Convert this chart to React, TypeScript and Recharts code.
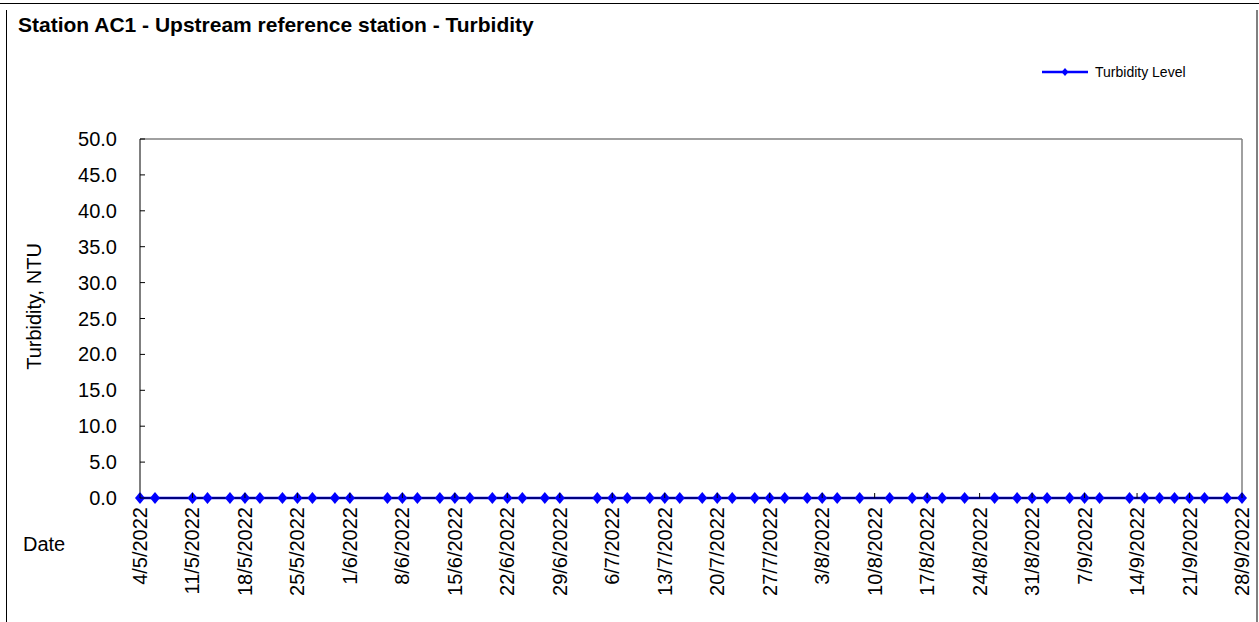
import React from "react"
import {
  LineChart,
  Line,
  XAxis,
  YAxis,
  ReferenceLine,
  Legend,
} from "recharts"

const sampleDates = [
  "4/5/2022", "6/5/2022", "11/5/2022", "13/5/2022", "16/5/2022", "18/5/2022", "20/5/2022",
  "23/5/2022", "25/5/2022", "27/5/2022", "30/5/2022", "1/6/2022", "6/6/2022", "8/6/2022",
  "10/6/2022", "13/6/2022", "15/6/2022", "17/6/2022", "20/6/2022", "22/6/2022", "24/6/2022",
  "27/6/2022", "29/6/2022", "4/7/2022", "6/7/2022", "8/7/2022", "11/7/2022", "13/7/2022",
  "15/7/2022", "18/7/2022", "20/7/2022", "22/7/2022", "25/7/2022", "27/7/2022", "29/7/2022",
  "1/8/2022", "3/8/2022", "5/8/2022", "8/8/2022", "12/8/2022", "15/8/2022", "17/8/2022",
  "19/8/2022", "22/8/2022", "26/8/2022", "29/8/2022", "31/8/2022", "2/9/2022", "5/9/2022",
  "7/9/2022", "9/9/2022", "13/9/2022", "15/9/2022", "17/9/2022", "19/9/2022", "21/9/2022",
  "23/9/2022", "26/9/2022", "28/9/2022",
]

const turbidity = [
  0, 0, 0, 0, 0, 0, 0,
  0, 0, 0, 0, 0, 0, 0,
  0, 0, 0, 0, 0, 0, 0,
  0, 0, 0, 0, 0, 0, 0,
  0, 0, 0, 0, 0, 0, 0,
  0, 0, 0, 0, 0, 0, 0,
  0, 0, 0, 0, 0, 0, 0,
  0, 0, 0, 0, 0, 0, 0,
  0, 0, 0,
]

const dateTicks = [
  "4/5/2022", "11/5/2022", "18/5/2022", "25/5/2022", "1/6/2022", "8/6/2022", "15/6/2022",
  "22/6/2022", "29/6/2022", "6/7/2022", "13/7/2022", "20/7/2022", "27/7/2022", "3/8/2022",
  "10/8/2022", "17/8/2022", "24/8/2022", "31/8/2022", "7/9/2022", "14/9/2022", "21/9/2022",
  "28/9/2022",
]

const yTicks = [0, 5, 10, 15, 20, 25, 30, 35, 40, 45, 50]

const FONT = '"Liberation Sans", Arial, sans-serif'
const BLUE = "#0000ff"

function toTime(s: string) {
  const [d, m, y] = s.split("/").map(Number)
  return Date.UTC(y, m - 1, d)
}

function fmtDate(t: number) {
  const d = new Date(t)
  return `${d.getUTCDate()}/${d.getUTCMonth() + 1}/${d.getUTCFullYear()}`
}

const data = sampleDates.map((s, i) => ({ t: toTime(s), value: turbidity[i] }))
const xTickValues = dateTicks.map(toTime)
const xStart = xTickValues[0]
const xEnd = xTickValues[xTickValues.length - 1]

function Diamond({ cx, cy, w = 5, h = 6 }: { cx?: number; cy?: number; w?: number; h?: number }) {
  if (cx == null || cy == null) return null
  return (
    <polygon
      points={`${cx},${cy - h} ${cx + w},${cy} ${cx},${cy + h} ${cx - w},${cy}`}
      fill={BLUE}
      stroke="none"
    />
  )
}

function XTick({ x, y, payload }: any) {
  return (
    <g>
      <line x1={x} x2={x} y1={y} y2={y - 5} stroke="#000" strokeWidth={1} />
      <text
        x={x}
        y={y + 9}
        transform={`rotate(-90 ${x} ${y + 9})`}
        textAnchor="end"
        dominantBaseline="central"
        fontSize={20}
        fontFamily={FONT}
        fill="#000"
      >
        {fmtDate(payload.value)}
      </text>
    </g>
  )
}

function YTick({ x, y, payload }: any) {
  return (
    <g>
      <line x1={x} x2={x + 5} y1={y} y2={y} stroke="#000" strokeWidth={1} />
      <text
        x={x - 23}
        y={y}
        textAnchor="end"
        dominantBaseline="central"
        fontSize={20}
        fontFamily={FONT}
        fill="#000"
      >
        {payload.value.toFixed(1)}
      </text>
    </g>
  )
}

function LegendBox() {
  return (
    <svg width={160} height={20} style={{ display: "block", overflow: "visible" }}>
      <line x1={2} x2={48} y1={10} y2={10} stroke={BLUE} strokeWidth={2.5} />
      <Diamond cx={25} cy={10} w={3.5} h={4} />
      <text x={55} y={10} dominantBaseline="central" fontSize={14} fontFamily={FONT} fill="#000">
        Turbidity Level
      </text>
    </svg>
  )
}

export default function App() {
  return (
    <div style={{ position: "absolute", left: 0, top: 0, width: 1259, height: 622, background: "#fff", overflow: "hidden", fontFamily: FONT }}>
      <div style={{ position: "absolute", left: 0, top: 3, width: 1259, height: 0, borderTop: "1px solid #000" }} />
      <div style={{ position: "absolute", left: 6, top: 10, width: 1249, height: 640, borderLeft: "1px solid #000", borderRight: "2px solid #808080" }} />
      <div style={{ position: "absolute", left: 18, top: 13, fontSize: 21, fontWeight: "bold", whiteSpace: "nowrap", color: "#000" }}>
        Station AC1 - Upstream reference station - Turbidity
      </div>
      <div style={{ position: "absolute", left: 0, top: 0 }}>
        <LineChart width={1259} height={622} data={data} margin={{ top: 139, right: 17, bottom: 0, left: 0 }}>
          <XAxis
            dataKey="t"
            type="number"
            scale="time"
            domain={[xStart, xEnd]}
            ticks={xTickValues}
            interval={0}
            height={124}
            tickSize={0}
            tickMargin={0}
            tick={<XTick />}
            axisLine={{ stroke: "#000", strokeWidth: 1 }}
            label={{
              content: (props: any) => {
                const vb = props.viewBox
                return (
                  <text x={vb.x - 117} y={vb.y + 53} fontSize={20} fontFamily={FONT} fill="#000">
                    Date
                  </text>
                )
              },
            }}
          />
          <YAxis
            type="number"
            domain={[0, 50]}
            ticks={yTicks}
            interval={0}
            width={140}
            tickSize={0}
            tickMargin={0}
            tick={<YTick />}
            axisLine={{ stroke: "#000", strokeWidth: 1 }}
            label={{
              content: (props: any) => {
                const vb = props.viewBox
                const cx = vb.x + 34
                const cy = vb.y + vb.height / 2 - 12
                return (
                  <text
                    x={cx}
                    y={cy}
                    transform={`rotate(-90 ${cx} ${cy})`}
                    textAnchor="middle"
                    dominantBaseline="central"
                    fontSize={20}
                    fontFamily={FONT}
                    fill="#000"
                  >
                    Turbidity, NTU
                  </text>
                )
              },
            }}
          />
          <ReferenceLine y={50} stroke="#808080" strokeWidth={1.5} />
          <ReferenceLine x={xEnd} stroke="#808080" strokeWidth={1.5} />
          <Legend
            layout="horizontal"
            verticalAlign="middle"
            align="center"
            content={() => <LegendBox />}
            wrapperStyle={{ position: "absolute", left: 1040, top: 62, width: 160, height: 20 }}
          />
          <Line
            type="linear"
            dataKey="value"
            name="Turbidity Level"
            stroke={BLUE}
            strokeWidth={2.5}
            dot={(p: any) => <Diamond key={p.index} cx={p.cx} cy={p.cy} />}
            activeDot={false}
            isAnimationActive={false}
          />
        </LineChart>
      </div>
    </div>
  )
}
